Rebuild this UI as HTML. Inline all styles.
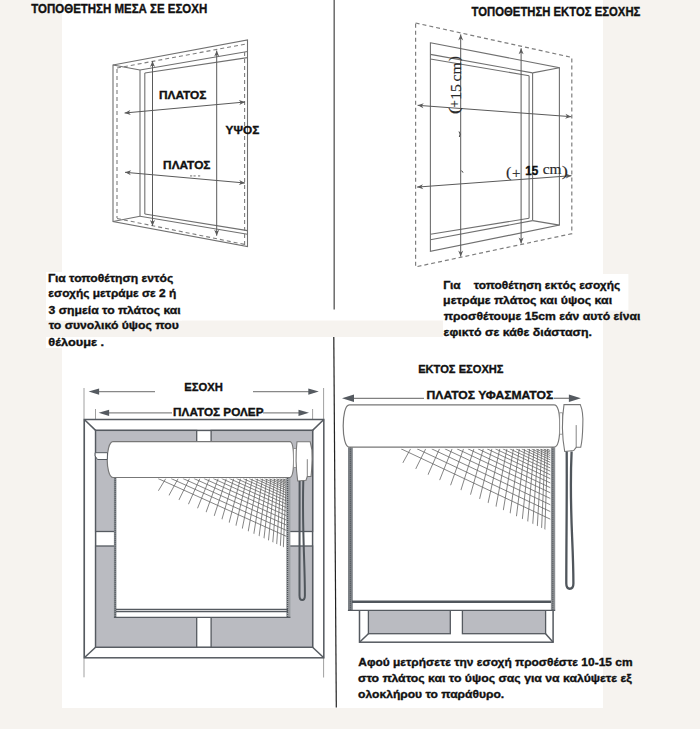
<!DOCTYPE html>
<html><head><meta charset="utf-8"><style>html,body{margin:0;padding:0;background:#f6f3ef;}</style></head>
<body><svg width="700" height="729" viewBox="0 0 700 729" style="display:block">
<rect x="0.0" y="0.0" width="700.0" height="729.0" fill="#f6f3ef" stroke="none" stroke-width="1" />
<rect x="62.0" y="0.0" width="541.0" height="320.5" fill="#fff" stroke="none" stroke-width="1" />
<rect x="62.0" y="337.0" width="541.0" height="371.0" fill="#fff" stroke="none" stroke-width="1" />
<rect x="46.0" y="272.0" width="136.0" height="48.5" fill="#fff" stroke="none" stroke-width="1" />
<rect x="46.0" y="337.0" width="60.0" height="11.0" fill="#fff" stroke="none" stroke-width="1" />
<rect x="443.0" y="274.0" width="185.4" height="36.4" fill="#fff" stroke="none" stroke-width="1" />
<rect x="443.0" y="310.0" width="160.0" height="27.0" fill="#fff" stroke="none" stroke-width="1" />
<polygon points="113.0,65.0 247.5,40.0 247.5,246.5 113.0,221.5" fill="none" stroke="#707070" stroke-width="1.1" />
<line x1="140.0" y1="70.0" x2="140.0" y2="216.3" stroke="#707070" stroke-width="1.1" />
<line x1="113.0" y1="65.0" x2="140.0" y2="70.0" stroke="#707070" stroke-width="1.1" />
<line x1="113.0" y1="221.5" x2="140.0" y2="216.3" stroke="#707070" stroke-width="1.1" />
<line x1="140.0" y1="70.0" x2="247.5" y2="51.5" stroke="#707070" stroke-width="1.1" />
<line x1="140.0" y1="216.3" x2="247.5" y2="234.2" stroke="#707070" stroke-width="1.1" />
<line x1="144.8" y1="73.0" x2="144.8" y2="214.0" stroke="#707070" stroke-width="1.1" />
<line x1="144.8" y1="73.0" x2="247.5" y2="57.6" stroke="#707070" stroke-width="1.1" />
<line x1="144.8" y1="214.0" x2="247.5" y2="230.6" stroke="#707070" stroke-width="1.1" />
<line x1="117.0" y1="69.0" x2="117.0" y2="218.0" stroke="#7e7e7e" stroke-width="1.1" stroke-dasharray="4,3"/>
<line x1="117.0" y1="68.0" x2="246.0" y2="44.0" stroke="#7e7e7e" stroke-width="1.1" stroke-dasharray="4,3"/>
<line x1="117.0" y1="218.5" x2="245.0" y2="244.5" stroke="#7e7e7e" stroke-width="1.1" stroke-dasharray="4,3"/>
<line x1="244.6" y1="52.0" x2="244.6" y2="246.0" stroke="#7e7e7e" stroke-width="1.1" stroke-dasharray="4,3"/>
<line x1="152.5" y1="61.0" x2="152.5" y2="226.0" stroke="#5a5a5a" stroke-width="1" />
<polygon points="152.5,61.0 155.0,67.0 152.5,65.2 150.0,67.0" fill="#5a5a5a" stroke="none" stroke-width="1" />
<polygon points="152.5,226.0 150.0,220.0 152.5,221.8 155.0,220.0" fill="#5a5a5a" stroke="none" stroke-width="1" />
<line x1="216.7" y1="50.6" x2="216.7" y2="235.7" stroke="#5a5a5a" stroke-width="1" />
<polygon points="216.7,50.6 219.2,56.6 216.7,54.8 214.2,56.6" fill="#5a5a5a" stroke="none" stroke-width="1" />
<polygon points="216.7,235.7 214.2,229.7 216.7,231.5 219.2,229.7" fill="#5a5a5a" stroke="none" stroke-width="1" />
<line x1="124.6" y1="113.0" x2="245.0" y2="102.0" stroke="#5a5a5a" stroke-width="1" />
<polygon points="124.6,113.0 130.3,110.0 128.8,112.6 130.8,114.9" fill="#5a5a5a" stroke="none" stroke-width="1" />
<polygon points="245.0,102.0 239.3,105.0 240.8,102.4 238.8,100.1" fill="#5a5a5a" stroke="none" stroke-width="1" />
<line x1="125.0" y1="172.3" x2="245.0" y2="183.0" stroke="#5a5a5a" stroke-width="1" />
<polygon points="125.0,172.3 131.2,170.3 129.2,172.7 130.8,175.3" fill="#5a5a5a" stroke="none" stroke-width="1" />
<polygon points="245.0,183.0 238.8,185.0 240.8,182.6 239.2,180.0" fill="#5a5a5a" stroke="none" stroke-width="1" />
<text x="158.92" y="99.10" font-family="Liberation Sans" font-size="11.19" font-weight="bold" fill="#111" stroke="#111" stroke-width="0.35" textLength="47.44" lengthAdjust="spacingAndGlyphs">ΠΛΑΤΟΣ</text>
<text x="225.60" y="133.80" font-family="Liberation Sans" font-size="11.77" font-weight="bold" fill="#111" stroke="#111" stroke-width="0.35" textLength="33.65" lengthAdjust="spacingAndGlyphs">ΥΨΟΣ</text>
<text x="163.12" y="168.90" font-family="Liberation Sans" font-size="11.19" font-weight="bold" fill="#111" stroke="#111" stroke-width="0.35" textLength="47.34" lengthAdjust="spacingAndGlyphs">ΠΛΑΤΟΣ</text>
<rect x="190.0" y="175.2" width="2.2" height="1.4" fill="#999" stroke="none" stroke-width="1" />
<rect x="193.5" y="175.2" width="2.2" height="1.4" fill="#999" stroke="none" stroke-width="1" />
<rect x="198.0" y="175.2" width="2.2" height="1.4" fill="#999" stroke="none" stroke-width="1" />
<text x="31.27" y="12.70" font-family="Liberation Sans" font-size="12.65" font-weight="bold" fill="#111" stroke="#111" stroke-width="0.35" textLength="175.99" lengthAdjust="spacingAndGlyphs">ΤΟΠΟΘΕΤΗΣΗ ΜΕΣΑ ΣΕ ΕΣΟΧΗ</text>
<text x="471.58" y="16.00" font-family="Liberation Sans" font-size="12.35" font-weight="bold" fill="#111" stroke="#111" stroke-width="0.35" textLength="168.77" lengthAdjust="spacingAndGlyphs">ΤΟΠΟΘΕΤΗΣΗ ΕΚΤΟΣ ΕΣΟΧΗΣ</text>
<polygon points="415.6,23.0 571.8,57.4 571.8,233.7 415.6,266.9" fill="none" stroke="#7e7e7e" stroke-width="1.2" stroke-dasharray="4,3"/>
<polygon points="430.4,42.8 559.4,67.7 559.4,225.1 430.4,251.4" fill="none" stroke="#707070" stroke-width="1.1" />
<line x1="430.4" y1="54.4" x2="532.6" y2="72.9" stroke="#707070" stroke-width="1.1" />
<line x1="430.4" y1="59.0" x2="529.1" y2="75.7" stroke="#707070" stroke-width="1.1" />
<line x1="532.6" y1="72.9" x2="532.6" y2="220.6" stroke="#707070" stroke-width="1.1" />
<line x1="529.1" y1="75.7" x2="529.1" y2="218.3" stroke="#707070" stroke-width="1.1" />
<line x1="559.4" y1="67.7" x2="532.6" y2="72.9" stroke="#707070" stroke-width="1.1" />
<line x1="559.4" y1="225.1" x2="532.6" y2="220.6" stroke="#707070" stroke-width="1.1" />
<line x1="430.4" y1="234.3" x2="529.1" y2="218.3" stroke="#707070" stroke-width="1.1" />
<line x1="430.4" y1="239.8" x2="532.6" y2="220.6" stroke="#707070" stroke-width="1.1" />
<line x1="460.7" y1="34.4" x2="460.7" y2="256.6" stroke="#5a5a5a" stroke-width="1" />
<polygon points="460.7,34.4 463.2,40.4 460.7,38.6 458.2,40.4" fill="#5a5a5a" stroke="none" stroke-width="1" />
<polygon points="460.7,256.6 458.2,250.6 460.7,252.4 463.2,250.6" fill="#5a5a5a" stroke="none" stroke-width="1" />
<line x1="521.1" y1="48.3" x2="521.1" y2="243.4" stroke="#5a5a5a" stroke-width="1" />
<polygon points="521.1,48.3 523.6,54.3 521.1,52.5 518.6,54.3" fill="#5a5a5a" stroke="none" stroke-width="1" />
<polygon points="521.1,243.4 518.6,237.4 521.1,239.2 523.6,237.4" fill="#5a5a5a" stroke="none" stroke-width="1" />
<line x1="417.6" y1="105.3" x2="571.3" y2="116.7" stroke="#5a5a5a" stroke-width="1" />
<polygon points="417.6,105.3 423.8,103.3 421.8,105.6 423.4,108.2" fill="#5a5a5a" stroke="none" stroke-width="1" />
<polygon points="571.3,116.7 565.1,118.7 567.1,116.4 565.5,113.8" fill="#5a5a5a" stroke="none" stroke-width="1" />
<line x1="417.1" y1="187.1" x2="571.5" y2="175.7" stroke="#5a5a5a" stroke-width="1" />
<polygon points="417.1,187.1 422.9,184.2 421.3,186.8 423.3,189.2" fill="#5a5a5a" stroke="none" stroke-width="1" />
<polygon points="571.5,175.7 565.7,178.6 567.3,176.0 565.3,173.6" fill="#5a5a5a" stroke="none" stroke-width="1" />
<g transform="translate(460.6,113.4) rotate(-90)">
<text x="-0.88" y="-2.00" font-family="Liberation Serif" font-size="14.80" font-weight="normal" fill="#2a2a2a" stroke="#2a2a2a" stroke-width="0.15" textLength="6.84" lengthAdjust="spacingAndGlyphs">(</text>
<text x="5.96" y="-1.60" font-family="Liberation Serif" font-size="14.80" font-weight="normal" fill="#2a2a2a" stroke="#2a2a2a" stroke-width="0.15" textLength="7.37" lengthAdjust="spacingAndGlyphs">+</text>
<text x="13.55" y="0.00" font-family="Liberation Serif" font-size="15.11" font-weight="normal" fill="#2a2a2a" stroke="#2a2a2a" stroke-width="0.15" textLength="15.56" lengthAdjust="spacingAndGlyphs">15</text>
<text x="31.80" y="0.00" font-family="Liberation Serif" font-size="15.41" font-weight="normal" fill="#2a2a2a" stroke="#2a2a2a" stroke-width="0.15" textLength="19.33" lengthAdjust="spacingAndGlyphs">cm</text>
<text x="52.10" y="-2.00" font-family="Liberation Serif" font-size="14.80" font-weight="normal" fill="#2a2a2a" stroke="#2a2a2a" stroke-width="0.15" textLength="5.16" lengthAdjust="spacingAndGlyphs">)</text>
</g>
<text x="505.90" y="176.60" font-family="Liberation Serif" font-size="15.41" font-weight="normal" fill="#2a2a2a" stroke="#2a2a2a" stroke-width="0.15" textLength="5.42" lengthAdjust="spacingAndGlyphs">(</text>
<text x="511.97" y="177.50" font-family="Liberation Serif" font-size="14.95" font-weight="normal" fill="#2a2a2a" stroke="#2a2a2a" stroke-width="0.15" textLength="8.45" lengthAdjust="spacingAndGlyphs">+</text>
<text x="525.27" y="174.60" font-family="Liberation Sans" font-size="12.06" font-weight="bold" fill="#111" stroke="#111" stroke-width="0.35" textLength="13.05" lengthAdjust="spacingAndGlyphs">15</text>
<text x="542.71" y="173.80" font-family="Liberation Serif" font-size="15.11" font-weight="normal" fill="#2a2a2a" stroke="#2a2a2a" stroke-width="0.15" textLength="18.81" lengthAdjust="spacingAndGlyphs">cm</text>
<text x="561.70" y="176.00" font-family="Liberation Serif" font-size="15.41" font-weight="normal" fill="#2a2a2a" stroke="#2a2a2a" stroke-width="0.15" textLength="6.20" lengthAdjust="spacingAndGlyphs">)</text>
<path d="M459,131.5 Q461,134 459.3,137" fill="none" stroke="#333" stroke-width="0.9"/>
<path d="M461.6,170.6 L463,172.6" fill="none" stroke="#333" stroke-width="1"/>
<line x1="334.2" y1="0.0" x2="334.2" y2="309.4" stroke="#6a6a6a" stroke-width="1.5" />
<line x1="333.8" y1="337.0" x2="336.3" y2="707.5" stroke="#222" stroke-width="1.2" />
<text x="48.00" y="281.70" font-family="Liberation Sans" font-size="11.63" font-weight="bold" fill="#111" stroke="#111" stroke-width="0.35" textLength="125.27" lengthAdjust="spacingAndGlyphs">Για τοποθέτηση εντός</text>
<text x="48.36" y="297.40" font-family="Liberation Sans" font-size="11.63" font-weight="bold" fill="#111" stroke="#111" stroke-width="0.35" textLength="127.87" lengthAdjust="spacingAndGlyphs">εσοχής μετράμε σε 2 ή</text>
<text x="48.53" y="313.60" font-family="Liberation Sans" font-size="11.63" font-weight="bold" fill="#111" stroke="#111" stroke-width="0.35" textLength="132.19" lengthAdjust="spacingAndGlyphs">3 σημεία το πλάτος και</text>
<text x="48.70" y="329.40" font-family="Liberation Sans" font-size="11.63" font-weight="bold" fill="#111" stroke="#111" stroke-width="0.35" textLength="130.09" lengthAdjust="spacingAndGlyphs">το συνολικό ύψος που</text>
<text x="48.25" y="345.50" font-family="Liberation Sans" font-size="11.63" font-weight="bold" fill="#111" stroke="#111" stroke-width="0.35" textLength="55.93" lengthAdjust="spacingAndGlyphs">θέλουμε .</text>
<text x="443.21" y="288.50" font-family="Liberation Sans" font-size="11.63" font-weight="bold" fill="#111" stroke="#111" stroke-width="0.35" textLength="176.95" lengthAdjust="spacingAndGlyphs">Για&#160;&#160;&#160;&#160;τοποθέτηση εκτός εσοχής</text>
<text x="443.14" y="304.20" font-family="Liberation Sans" font-size="11.63" font-weight="bold" fill="#111" stroke="#111" stroke-width="0.35" textLength="168.98" lengthAdjust="spacingAndGlyphs">μετράμε πλάτος και ύψος και</text>
<text x="443.76" y="319.80" font-family="Liberation Sans" font-size="11.63" font-weight="bold" fill="#111" stroke="#111" stroke-width="0.35" textLength="196.66" lengthAdjust="spacingAndGlyphs">προσθέτουμε 15cm εάν αυτό είναι</text>
<text x="443.54" y="335.50" font-family="Liberation Sans" font-size="11.63" font-weight="bold" fill="#111" stroke="#111" stroke-width="0.35" textLength="148.41" lengthAdjust="spacingAndGlyphs">εφικτό σε κάθε διάσταση.</text>
<text x="358.31" y="666.30" font-family="Liberation Sans" font-size="11.34" font-weight="bold" fill="#111" stroke="#111" stroke-width="0.35" textLength="274.22" lengthAdjust="spacingAndGlyphs">Αφού μετρήσετε την εσοχή προσθέστε 10-15 cm</text>
<text x="358.12" y="682.00" font-family="Liberation Sans" font-size="11.34" font-weight="bold" fill="#111" stroke="#111" stroke-width="0.35" textLength="273.69" lengthAdjust="spacingAndGlyphs">στο πλάτος και το ύψος σας για να καλύψετε εξ</text>
<text x="358.13" y="697.80" font-family="Liberation Sans" font-size="11.34" font-weight="bold" fill="#111" stroke="#111" stroke-width="0.35" textLength="146.10" lengthAdjust="spacingAndGlyphs">ολοκλήρου το παράθυρο.</text>
<line x1="84.0" y1="388.0" x2="84.0" y2="677.3" stroke="#a0a0a0" stroke-width="1" />
<line x1="323.6" y1="388.0" x2="323.6" y2="677.5" stroke="#a0a0a0" stroke-width="1" />
<line x1="95.5" y1="409.0" x2="95.5" y2="431.0" stroke="#a0a0a0" stroke-width="1" />
<line x1="312.6" y1="409.0" x2="312.6" y2="431.0" stroke="#a0a0a0" stroke-width="1" />
<line x1="95.0" y1="391.6" x2="155.0" y2="391.6" stroke="#888" stroke-width="1.2" />
<line x1="253.0" y1="391.6" x2="315.0" y2="391.6" stroke="#888" stroke-width="1.2" />
<polygon points="88.6,391.6 99.1,388.5 99.1,391.6 99.1,394.7" fill="#555a60" stroke="none" stroke-width="1" />
<polygon points="318.8,391.6 308.3,394.7 308.3,391.6 308.3,388.5" fill="#555a60" stroke="none" stroke-width="1" />
<line x1="105.0" y1="412.8" x2="172.0" y2="412.8" stroke="#888" stroke-width="1.2" />
<line x1="263.0" y1="412.8" x2="302.0" y2="412.8" stroke="#888" stroke-width="1.2" />
<polygon points="98.6,412.8 109.1,409.7 109.1,412.8 109.1,415.9" fill="#555a60" stroke="none" stroke-width="1" />
<polygon points="309.0,412.8 298.5,415.9 298.5,412.8 298.5,409.7" fill="#555a60" stroke="none" stroke-width="1" />
<text x="184.26" y="390.70" font-family="Liberation Sans" font-size="11.63" font-weight="bold" fill="#111" stroke="#111" stroke-width="0.35" textLength="38.60" lengthAdjust="spacingAndGlyphs">ΕΣΟΧΗ</text>
<text x="173.12" y="415.60" font-family="Liberation Sans" font-size="11.19" font-weight="bold" fill="#111" stroke="#111" stroke-width="0.35" textLength="90.37" lengthAdjust="spacingAndGlyphs">ΠΛΑΤΟΣ ΡΟΛΕΡ</text>
<rect x="84.3" y="419.5" width="239.5" height="238.3" fill="#fff" stroke="#555a60" stroke-width="1.5" />
<rect x="95.6" y="430.4" width="217.0" height="216.8" fill="#fff" stroke="#555a60" stroke-width="1.5" />
<line x1="84.3" y1="419.5" x2="95.6" y2="430.4" stroke="#555a60" stroke-width="1.5" />
<line x1="323.8" y1="419.5" x2="312.6" y2="430.4" stroke="#555a60" stroke-width="1.5" />
<line x1="84.3" y1="657.8" x2="95.6" y2="647.2" stroke="#555a60" stroke-width="1.5" />
<line x1="323.8" y1="657.8" x2="312.6" y2="647.2" stroke="#555a60" stroke-width="1.5" />
<rect x="95.6" y="430.4" width="101.1" height="101.1" fill="#babbc1" stroke="#555a60" stroke-width="1.3" />
<rect x="211.1" y="430.4" width="101.5" height="101.1" fill="#babbc1" stroke="#555a60" stroke-width="1.3" />
<rect x="95.6" y="546.0" width="101.1" height="101.2" fill="#babbc1" stroke="#555a60" stroke-width="1.3" />
<rect x="211.1" y="546.0" width="101.5" height="101.2" fill="#babbc1" stroke="#555a60" stroke-width="1.3" />
<rect x="114.3" y="477.8" width="173.7" height="139.7" fill="#fff" stroke="none" stroke-width="1" />
<clipPath id="g1"><polygon points="158,478.5 287,478.5 287,548.7 158,490.4"/></clipPath>
<g clip-path="url(#g1)" stroke="#666" stroke-width="0.8">
<line x1="158.0" y1="478.5" x2="289.0" y2="537.5"/>
<line x1="171.0" y1="478.5" x2="289.0" y2="531.6"/>
<line x1="182.9" y1="478.5" x2="289.0" y2="526.2"/>
<line x1="193.9" y1="478.5" x2="289.0" y2="521.3"/>
<line x1="203.9" y1="478.5" x2="289.0" y2="516.8"/>
<line x1="213.2" y1="478.5" x2="289.0" y2="512.6"/>
<line x1="221.6" y1="478.5" x2="289.0" y2="508.8"/>
<line x1="229.4" y1="478.5" x2="289.0" y2="505.3"/>
<line x1="236.5" y1="478.5" x2="289.0" y2="502.1"/>
<line x1="243.1" y1="478.5" x2="289.0" y2="499.2"/>
<line x1="249.1" y1="478.5" x2="289.0" y2="496.5"/>
<line x1="254.6" y1="478.5" x2="289.0" y2="494.0"/>
<line x1="259.7" y1="478.5" x2="289.0" y2="491.7"/>
<line x1="264.3" y1="478.5" x2="289.0" y2="489.6"/>
<line x1="268.6" y1="478.5" x2="289.0" y2="487.7"/>
<line x1="272.5" y1="478.5" x2="289.0" y2="485.9"/>
<line x1="276.1" y1="478.5" x2="289.0" y2="484.3"/>
<line x1="279.4" y1="478.5" x2="289.0" y2="482.8"/>
<line x1="282.4" y1="478.5" x2="289.0" y2="481.5"/>
<line x1="285.2" y1="478.5" x2="289.0" y2="480.2"/>
<line x1="165.8" y1="478.5" x2="111.4" y2="568.5"/>
<line x1="178.2" y1="478.5" x2="128.9" y2="568.5"/>
<line x1="189.5" y1="478.5" x2="145.0" y2="568.5"/>
<line x1="199.9" y1="478.5" x2="159.8" y2="568.5"/>
<line x1="209.5" y1="478.5" x2="173.3" y2="568.5"/>
<line x1="218.2" y1="478.5" x2="185.8" y2="568.5"/>
<line x1="226.3" y1="478.5" x2="197.2" y2="568.5"/>
<line x1="233.7" y1="478.5" x2="207.7" y2="568.5"/>
<line x1="240.5" y1="478.5" x2="217.3" y2="568.5"/>
<line x1="246.7" y1="478.5" x2="226.1" y2="568.5"/>
<line x1="252.4" y1="478.5" x2="234.2" y2="568.5"/>
<line x1="257.6" y1="478.5" x2="241.6" y2="568.5"/>
<line x1="262.5" y1="478.5" x2="248.4" y2="568.5"/>
<line x1="266.9" y1="478.5" x2="254.7" y2="568.5"/>
<line x1="270.9" y1="478.5" x2="260.5" y2="568.5"/>
<line x1="274.6" y1="478.5" x2="265.7" y2="568.5"/>
<line x1="278.1" y1="478.5" x2="270.6" y2="568.5"/>
<line x1="281.2" y1="478.5" x2="275.0" y2="568.5"/>
<line x1="284.1" y1="478.5" x2="279.1" y2="568.5"/>
<line x1="286.4" y1="478.5" x2="282.4" y2="568.5"/>
</g>
<rect x="113.9" y="477.8" width="2.5" height="139.7" fill="#80858a" stroke="none" stroke-width="1" />
<line x1="115.2" y1="478.0" x2="115.2" y2="617.5" stroke="#4f5459" stroke-width="1" stroke-dasharray="1,1"/>
<rect x="286.2" y="477.8" width="4.2" height="139.7" fill="#9a9da1" stroke="none" stroke-width="1" />
<line x1="287.6" y1="478.0" x2="287.6" y2="617.5" stroke="#4f5459" stroke-width="1.2" stroke-dasharray="1,1"/>
<line x1="116.0" y1="609.4" x2="288.0" y2="609.4" stroke="#555a60" stroke-width="1.5" />
<line x1="116.0" y1="611.6" x2="288.0" y2="611.6" stroke="#555a60" stroke-width="1.2" />
<line x1="113.9" y1="617.4" x2="290.4" y2="617.4" stroke="#555a60" stroke-width="1.4" />
<path d="M113,441.7 L289.8,441.7 C293.2,441.7 293.6,452 293.6,459.6 C293.6,467 293.2,477.5 289.8,477.5 L113,477.5 C109,477.5 107.2,467 107.2,459.6 C107.2,452 109,441.7 113,441.7 Z" fill="#fff" stroke="#777" stroke-width="1.2"/>
<path d="M95.1,452.7 L107.5,452.7 L107.3,459.5 L97.5,459.5 L95.1,456 Z" fill="#fff" stroke="#555a60" stroke-width="1"/>
<rect x="293.4" y="448.6" width="3.1" height="18.9" fill="#fff" stroke="#888" stroke-width="0.8" />
<path d="M297,441.8 L310.2,441.8 Q312.8,450 312.1,459 Q311.8,470 311,476.5 L307.3,476.5 L306,480.3 L297.7,481 Q294.8,460 297,441.8 Z" fill="#fff" stroke="#777" stroke-width="1.1"/>
<line x1="307.3" y1="459.2" x2="307.3" y2="476.5" stroke="#777" stroke-width="0.9" />
<path d="M299.6,481 C299.8,530 299.4,560 299.5,595.5 C299.5,601.5 304.9,601.5 304.9,595.5 C304.9,560 302,530 303.3,481" fill="none" stroke="#50565c" stroke-width="2"/>
<text x="418.17" y="372.90" font-family="Liberation Sans" font-size="11.48" font-weight="bold" fill="#111" stroke="#111" stroke-width="0.35" textLength="85.37" lengthAdjust="spacingAndGlyphs">ΕΚΤΟΣ ΕΣΟΧΗΣ</text>
<line x1="350.0" y1="398.3" x2="424.0" y2="398.3" stroke="#808080" stroke-width="1.3" />
<line x1="554.0" y1="398.3" x2="572.0" y2="398.3" stroke="#808080" stroke-width="1.3" />
<polygon points="342.0,398.3 354.0,394.6 354.0,398.3 354.0,402.0" fill="#555a60" stroke="none" stroke-width="1" />
<polygon points="580.9,398.3 568.9,402.0 568.9,398.3 568.9,394.6" fill="#555a60" stroke="none" stroke-width="1" />
<text x="426.60" y="398.70" font-family="Liberation Sans" font-size="11.48" font-weight="bold" fill="#111" stroke="#111" stroke-width="0.35" textLength="126.66" lengthAdjust="spacingAndGlyphs">ΠΛΑΤΟΣ ΥΦΑΣΜΑΤΟΣ</text>
<rect x="359.5" y="600.0" width="193.6" height="42.2" fill="#fff" stroke="#555a60" stroke-width="1.5" />
<rect x="368.4" y="600.0" width="81.9" height="33.7" fill="#babbc1" stroke="#555a60" stroke-width="1.3" />
<rect x="462.4" y="600.0" width="83.2" height="33.7" fill="#babbc1" stroke="#555a60" stroke-width="1.3" />
<line x1="359.5" y1="642.2" x2="368.4" y2="633.7" stroke="#555a60" stroke-width="1.5" />
<line x1="553.1" y1="642.2" x2="545.6" y2="633.7" stroke="#555a60" stroke-width="1.5" />
<rect x="347.9" y="447.3" width="207.3" height="163.2" fill="#fff" stroke="none" stroke-width="1" />
<clipPath id="g2"><polygon points="401,448.8 550.3,448.8 550.3,532.1 401,462.0"/></clipPath>
<g clip-path="url(#g2)" stroke="#666" stroke-width="0.8">
<line x1="401.0" y1="448.8" x2="552.3" y2="520.1"/>
<line x1="417.0" y1="448.8" x2="552.3" y2="512.5"/>
<line x1="431.6" y1="448.8" x2="552.3" y2="505.7"/>
<line x1="444.8" y1="448.8" x2="552.3" y2="499.4"/>
<line x1="456.9" y1="448.8" x2="552.3" y2="493.7"/>
<line x1="467.9" y1="448.8" x2="552.3" y2="488.6"/>
<line x1="477.9" y1="448.8" x2="552.3" y2="483.9"/>
<line x1="487.0" y1="448.8" x2="552.3" y2="479.6"/>
<line x1="495.3" y1="448.8" x2="552.3" y2="475.7"/>
<line x1="502.8" y1="448.8" x2="552.3" y2="472.1"/>
<line x1="509.7" y1="448.8" x2="552.3" y2="468.9"/>
<line x1="515.9" y1="448.8" x2="552.3" y2="465.9"/>
<line x1="521.6" y1="448.8" x2="552.3" y2="463.3"/>
<line x1="526.8" y1="448.8" x2="552.3" y2="460.8"/>
<line x1="531.5" y1="448.8" x2="552.3" y2="458.6"/>
<line x1="535.8" y1="448.8" x2="552.3" y2="456.6"/>
<line x1="539.7" y1="448.8" x2="552.3" y2="454.7"/>
<line x1="543.2" y1="448.8" x2="552.3" y2="453.1"/>
<line x1="546.5" y1="448.8" x2="552.3" y2="451.5"/>
<line x1="410.6" y1="448.8" x2="360.7" y2="538.8"/>
<line x1="425.7" y1="448.8" x2="381.0" y2="538.8"/>
<line x1="439.5" y1="448.8" x2="399.5" y2="538.8"/>
<line x1="452.1" y1="448.8" x2="416.3" y2="538.8"/>
<line x1="463.5" y1="448.8" x2="431.6" y2="538.8"/>
<line x1="473.9" y1="448.8" x2="445.6" y2="538.8"/>
<line x1="483.3" y1="448.8" x2="458.2" y2="538.8"/>
<line x1="491.9" y1="448.8" x2="469.8" y2="538.8"/>
<line x1="499.8" y1="448.8" x2="480.3" y2="538.8"/>
<line x1="506.9" y1="448.8" x2="489.9" y2="538.8"/>
<line x1="513.4" y1="448.8" x2="498.6" y2="538.8"/>
<line x1="519.3" y1="448.8" x2="506.5" y2="538.8"/>
<line x1="524.7" y1="448.8" x2="513.7" y2="538.8"/>
<line x1="529.6" y1="448.8" x2="520.3" y2="538.8"/>
<line x1="534.1" y1="448.8" x2="526.2" y2="538.8"/>
<line x1="538.1" y1="448.8" x2="531.7" y2="538.8"/>
<line x1="541.8" y1="448.8" x2="536.6" y2="538.8"/>
<line x1="545.2" y1="448.8" x2="541.1" y2="538.8"/>
<line x1="547.7" y1="448.8" x2="544.5" y2="538.8"/>
</g>
<rect x="348.0" y="447.3" width="4.8" height="163.2" fill="#7d8287" stroke="none" stroke-width="1" />
<line x1="350.4" y1="447.3" x2="350.4" y2="610.5" stroke="#4f5459" stroke-width="1.3" stroke-dasharray="1,1"/>
<rect x="550.9" y="447.3" width="4.3" height="163.2" fill="#8d9094" stroke="none" stroke-width="1" />
<line x1="552.8" y1="447.3" x2="552.8" y2="610.5" stroke="#4f5459" stroke-width="1.3" stroke-dasharray="1,1"/>
<line x1="352.0" y1="601.7" x2="551.0" y2="601.7" stroke="#50565c" stroke-width="2.4" />
<line x1="347.9" y1="610.4" x2="555.2" y2="610.4" stroke="#555a60" stroke-width="1.2" />
<path d="M349.4,404.8 L554,404.8 C558.5,404.8 559.8,416 559.8,426 C559.8,436 558.5,447.1 554,447.1 L349.4,447.1 C345,447.1 343.2,436 343.2,426 C343.2,416 345,404.8 349.4,404.8 Z" fill="#fff" stroke="#777" stroke-width="1.2"/>
<rect x="559.7" y="412.8" width="2.8" height="21.4" fill="#fff" stroke="#888" stroke-width="0.8" />
<path d="M564,404.6 L580.3,404.6 Q583.5,412 582.8,425 Q582.5,440 580.7,447.3 L576.2,447.3 L573.7,450.6 L564.7,451.5 Q560.5,428 564,404.6 Z" fill="#fff" stroke="#777" stroke-width="1.1"/>
<line x1="576.2" y1="425.1" x2="576.2" y2="447.3" stroke="#777" stroke-width="0.9" />
<path d="M566.7,451.5 C567,500 566.3,540 566.3,583.5 C566.3,590.5 573.4,590.5 573.4,583.5 C573.4,540 569,510 571.6,451.5" fill="none" stroke="#50565c" stroke-width="2.3"/>
</svg></body></html>
